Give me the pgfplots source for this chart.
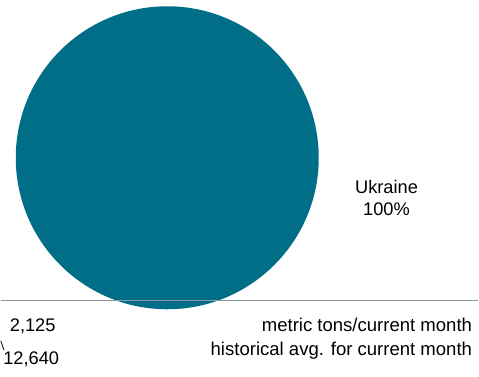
\documentclass[border=0pt]{standalone}
\usepackage{pgfplots}
\pgfplotsset{compat=1.18}
\usepackage{fontspec}
\setmainfont{Liberation Sans}
\definecolor{pieteal}{RGB}{0,110,135}
\definecolor{rulegray}{RGB}{140,153,166}
\begin{document}
\begin{tikzpicture}
\begin{axis}[
  width=479pt, height=378pt, scale only axis,
  xmin=0, xmax=479, ymin=0, ymax=378, y dir=reverse,
  hide axis, clip=false,
]
\path (axis cs:0,0) rectangle (axis cs:479,378);
% pie: Ukraine 100%
\fill[pieteal] (axis cs:167,158.3) circle[radius=152];
\addplot[rulegray, line width=1.6pt] coordinates {(0,301.5) (479,301.5)};
\node[font=\fontsize{18.3}{22.5}\selectfont, align=center] at (axis cs:387,198.5) {Ukraine\\100\%};
\node[font=\fontsize{18.3}{22}\selectfont] at (axis cs:32,327) {2,125};
\node[font=\fontsize{18.3}{22}\selectfont] at (axis cs:30.5,361) {12,640};
\addplot[black, line width=0.8pt] coordinates {(0,342) (3,351)};
\node[font=\fontsize{18.6}{23.5}\selectfont, anchor=east, align=right, inner sep=0pt] at (axis cs:473,340) {metric tons/current month\\historical avg. for current month};
\end{axis}
\end{tikzpicture}
\end{document}
